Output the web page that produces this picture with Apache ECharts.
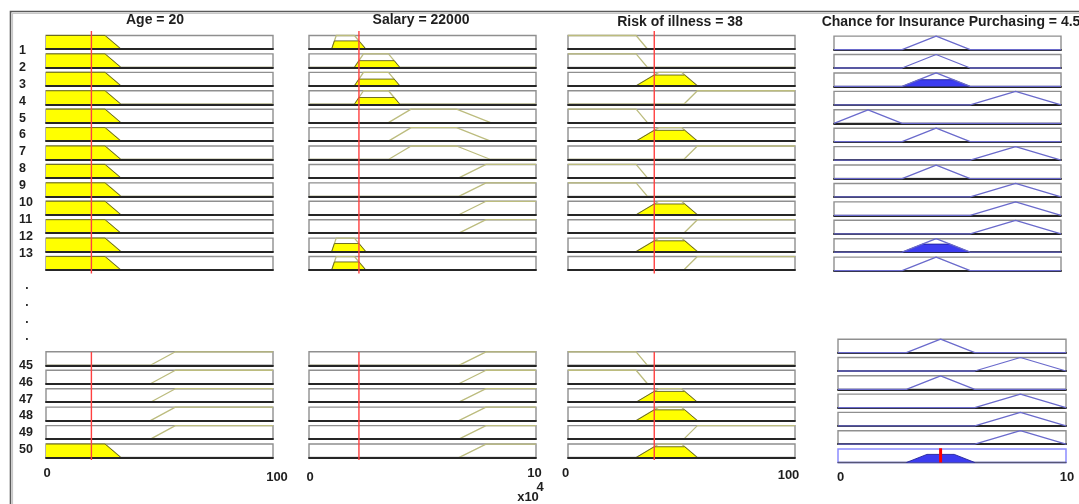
<!DOCTYPE html>
<html>
<head>
<meta charset="utf-8">
<script src="https://cdn.jsdelivr.net/npm/echarts@6/dist/echarts.min.js"></script>
<style>
html, body { margin: 0; padding: 0; background: #ffffff; }
#chart { width: 1079px; height: 504px; }
</style>
</head>
<body>
<div id="chart"></div>
<script>
// ---- Fuzzy inference state --------------------------------------------
const inputValues = [20, 22000, 38];          // Age, Salary, Risk of illness
const outputValue = 4.5;                       // Chance for Insurance Purchasing

const titles = ['Age = 20', 'Salary = 22000', 'Risk of illness = 38',
                'Chance for Insurance Purchasing = 4.5'];
const ranges = [[0, 100], [0, 100000], [0, 100], [0, 10]];

// Membership functions, trapezoids [a, b, c, d] (triangles use b == c)
const ageMF    = { young: [0, 0, 26, 33], old: [46, 57, 100, 100] };
const salaryMF = { low: [10000, 12000, 20000, 25000], mid: [20000, 24000, 35000, 40000],
                   wide: [35000, 45000, 65000, 80000], high: [66000, 78000, 100000, 100000] };
const riskMF   = { low: [0, 0, 30, 35], mid: [30, 40, 50, 57], high: [51, 57, 100, 100] };
const chanceMF = { low: [0, 1.5, 1.5, 3], mid: [3, 4.5, 4.5, 6], high: [6, 8, 8, 10] };

// Rules 1-13
const ruleLabelsTop = ['1', '2', '3', '4', '5', '6', '7', '8', '9', '10', '11', '12', '13'];
const ageTop    = ['young', 'young', 'young', 'young', 'young', 'young', 'young',
                   'young', 'young', 'young', 'young', 'young', 'young'];
const salaryTop = ['low', 'mid', 'mid', 'mid', 'wide', 'wide', 'wide',
                   'high', 'high', 'high', 'high', 'low', 'low'];
const riskTop   = ['low', 'low', 'mid', 'high', 'low', 'mid', 'high',
                   'low', 'low', 'mid', 'high', 'mid', 'high'];
const chanceTop = ['mid', 'mid', 'mid', 'high', 'low', 'mid', 'high',
                   'mid', 'high', 'high', 'high', 'mid', 'mid'];

// Rules 45-50
const ruleLabelsBottom = ['45', '46', '47', '48', '49', '50'];
const ageBottom    = ['old', 'old', 'old', 'old', 'old', 'young'];
const salaryBottom = ['high', 'high', 'high', 'high', 'high', 'high'];
const riskBottom   = ['low', 'low', 'mid', 'mid', 'high', 'mid'];
const chanceBottom = ['mid', 'high', 'mid', 'high', 'high', 'high'];

const tickLabels = [['0', '100'], ['0', '10'], ['0', '100'], ['0', '10']];

// ---- Styling ------------------------------------------------------------
const FONT = '"Liberation Sans", Arial, Helvetica, sans-serif';
const C = {
  border: '#8f8f8f', base: '#262626',
  inMF: '#bcbc7e', yellow: '#ffff00', yellowEdge: '#5e5e1c',
  outMF: '#6a6acc', blue: '#3c3cf0', blueEdge: '#20209a',
  red: '#ff4040', aggBorder: '#8c8cff'
};

// Layout of the box columns
const colLeft  = [46, 309, 568, 834];
const colWidth = 227;
const outBottomLeft = 838, outBottomWidth = 228;
const boxH = 13.5;
const topRowY    = i => 35.5 + 18.42 * i;
const bottomRowY = i => 351.8 + 18.45 * i;
const outBottomRowY = i => 339.2 + 18.3 * i;

// ---- Helpers ------------------------------------------------------------
function trapVal(p, x) {
  const [a, b, c, d] = p;
  if (x < a || x > d) return 0;
  if (x >= b && x <= c) return 1;
  if (x < b) return (x - a) / (b - a);
  return (d - x) / (d - c);
}
function mfOutline(p, range) {
  const [a, b, c, d] = p, pts = [];
  if (a === b && a === range[0]) pts.push([a, 1]);
  else { pts.push([range[0], 0], [a, 0], [b, 1]); }
  if (c !== b) pts.push([c, 1]);
  if (c === d && d === range[1]) pts.push([d, 1]);
  else { pts.push([d, 0], [range[1], 0]); }
  return pts;
}
function mfClipped(p, h) {
  const [a, b, c, d] = p, pts = [];
  if (a === b) pts.push([a, h]); else pts.push([a, 0], [a + (b - a) * h, h]);
  if (c === d) pts.push([d, h]); else pts.push([d - (d - c) * h, h], [d, 0]);
  return pts;
}

const grids = [], xAxes = [], yAxes = [], series = [];
function addGrid(g, range, axisLine, axisZ) {
  const idx = grids.length;
  grids.push(Object.assign({ outerBoundsMode: 'none', containLabel: false }, g));
  xAxes.push({
    gridIndex: idx, type: 'value', min: range[0], max: range[1], z: axisZ || 0,
    axisLine: axisLine || { show: false },
    axisTick: { show: false }, axisLabel: { show: false }, splitLine: { show: false }
  });
  yAxes.push({ gridIndex: idx, type: 'value', min: 0, max: 1, show: false });
  return idx;
}
function lineSeries(idx, data, color, width, z, area) {
  const s = {
    type: 'line', xAxisIndex: idx, yAxisIndex: idx, data: data,
    symbol: 'none', silent: true, clip: false, z: z, animation: false,
    lineStyle: { color: color, width: width }
  };
  if (area) s.areaStyle = { color: area, opacity: 1, origin: 'start' };
  return s;
}

const mfSets = [ageMF, salaryMF, riskMF];

function drawInputBox(col, name, left, top, width) {
  const range = ranges[col];
  const idx = addGrid(
    { left: left, top: top, width: width, height: boxH, show: true,
      borderColor: C.border, borderWidth: 1.4, backgroundColor: '#ffffff' },
    range, { show: true, lineStyle: { color: C.base, width: 1.8 } }, 4);
  const p = mfSets[col][name];
  series.push(lineSeries(idx, mfOutline(p, range), C.inMF, 1.3, 2));
  const mu = trapVal(p, inputValues[col]);
  if (mu > 0) series.push(lineSeries(idx, mfClipped(p, mu), C.yellowEdge, 0.9, 3, C.yellow));
  return mu;
}
function drawOutputBox(name, level, left, top, width) {
  const range = ranges[3];
  const idx = addGrid(
    { left: left, top: top, width: width, height: boxH, show: true,
      borderColor: C.border, borderWidth: 1.4, backgroundColor: '#ffffff' },
    range, { show: true, lineStyle: { color: C.base, width: 1.8 } }, 0);
  const p = chanceMF[name];
  if (level > 0) series.push(lineSeries(idx, mfClipped(p, level), C.blueEdge, 0.9, 3, C.blue));
  series.push(lineSeries(idx, mfOutline(p, range), C.outMF, 1.3, 4));
}

// Strongest firing level per output set, for the aggregate plot
const aggLevel = { low: 0, mid: 0, high: 0 };

function drawGroup(labels, age, salary, risk, chance, rowY, outRowY, outLeft, outWidth) {
  labels.forEach((lab, i) => {
    const m0 = drawInputBox(0, age[i], colLeft[0], rowY(i), colWidth);
    const m1 = drawInputBox(1, salary[i], colLeft[1], rowY(i), colWidth);
    const m2 = drawInputBox(2, risk[i], colLeft[2], rowY(i), colWidth);
    const fire = Math.min(m0, m1, m2);
    aggLevel[chance[i]] = Math.max(aggLevel[chance[i]], fire);
    drawOutputBox(chance[i], fire, outLeft, outRowY(i), outWidth);
  });
}

drawGroup(ruleLabelsTop, ageTop, salaryTop, riskTop, chanceTop,
          topRowY, i => topRowY(i) + 0.6, colLeft[3], colWidth);
drawGroup(ruleLabelsBottom, ageBottom, salaryBottom, riskBottom, chanceBottom,
          bottomRowY, outBottomRowY, outBottomLeft, outBottomWidth);

// Aggregated output with the defuzzified value
(function () {
  const range = ranges[3];
  const idx = addGrid(
    { left: outBottomLeft, top: outBottomRowY(6), width: outBottomWidth, height: boxH, show: true,
      borderColor: C.aggBorder, borderWidth: 1.5, backgroundColor: '#ffffff' },
    range, { show: true, lineStyle: { color: '#555577', width: 1.3 } }, 0);
  Object.keys(aggLevel).forEach(k => {
    if (aggLevel[k] > 0)
      series.push(lineSeries(idx, mfClipped(chanceMF[k], aggLevel[k]), C.blueEdge, 0.9, 3, C.blue));
  });
  series.push(lineSeries(idx, [[outputValue, 0], [outputValue, 1.05]], '#ff0000', 3, 6));
})();

// Input value markers spanning each column
function drawMarker(col, top, bottom) {
  const idx = addGrid({ left: colLeft[col], top: top, width: colWidth, height: bottom - top, show: false },
                      ranges[col], null, 0);
  series.push(lineSeries(idx, [[inputValues[col], 0], [inputValues[col], 1]], C.red, 1.4, 8));
}
[0, 1, 2].forEach(c => { drawMarker(c, 31, 273.5); drawMarker(c, 352, 460); });

// ---- Text and frame -----------------------------------------------------
const graphics = [];
function text(str, x, y, size, align, vAlign) {
  graphics.push({
    type: 'text', silent: true, z: 20,
    style: { text: str, x: x, y: y, font: 'bold ' + size + 'px ' + FONT,
             fill: '#1e1e1e', align: align || 'center', verticalAlign: vAlign || 'middle' }
  });
}
const titleX = [155, 421, 680, 951];
const titleY = [20, 20, 22, 22];
titles.forEach((t, i) => text(t, titleX[i], titleY[i], 14));

ruleLabelsTop.forEach((l, i) => text(l, 19, 50.5 + 16.9 * i, 12.5, 'left'));
ruleLabelsBottom.forEach((l, i) => text(l, 19, 365.5 + 16.8 * i, 12.5, 'left'));
[286, 303, 320, 337].forEach(y => text('.', 27, y, 12, 'center'));

// Axis range labels under each column
text(tickLabels[0][0], 47, 473, 13);   text(tickLabels[0][1], 277, 477, 13);
text(tickLabels[1][0], 310, 477, 13);  text(tickLabels[1][1], 534.5, 473, 13);
text('4', 540, 487, 13);               text('x10', 528, 497, 13);
text(tickLabels[2][0], 565.5, 473, 13); text(tickLabels[2][1], 788.5, 475, 13);
text(tickLabels[3][0], 840.5, 477, 13); text(tickLabels[3][1], 1067, 477, 13);

// Window frame
graphics.push({ type: 'polyline', silent: true, z: 1,
  shape: { points: [[10.5, 504], [10.5, 11.5], [1079, 11.5]] },
  style: { stroke: '#5a5a5a', lineWidth: 1.6, fill: null } });
graphics.push({ type: 'polyline', silent: true, z: 1,
  shape: { points: [[12.5, 504], [12.5, 13.5], [1079, 13.5]] },
  style: { stroke: '#c8c8c8', lineWidth: 1.2, fill: null } });

const chart = echarts.init(document.getElementById('chart'), null, { renderer: 'canvas' });
chart.setOption({
  animation: false,
  backgroundColor: '#ffffff',
  grid: grids, xAxis: xAxes, yAxis: yAxes,
  series: series,
  graphic: graphics
});
</script>
</body>
</html>
